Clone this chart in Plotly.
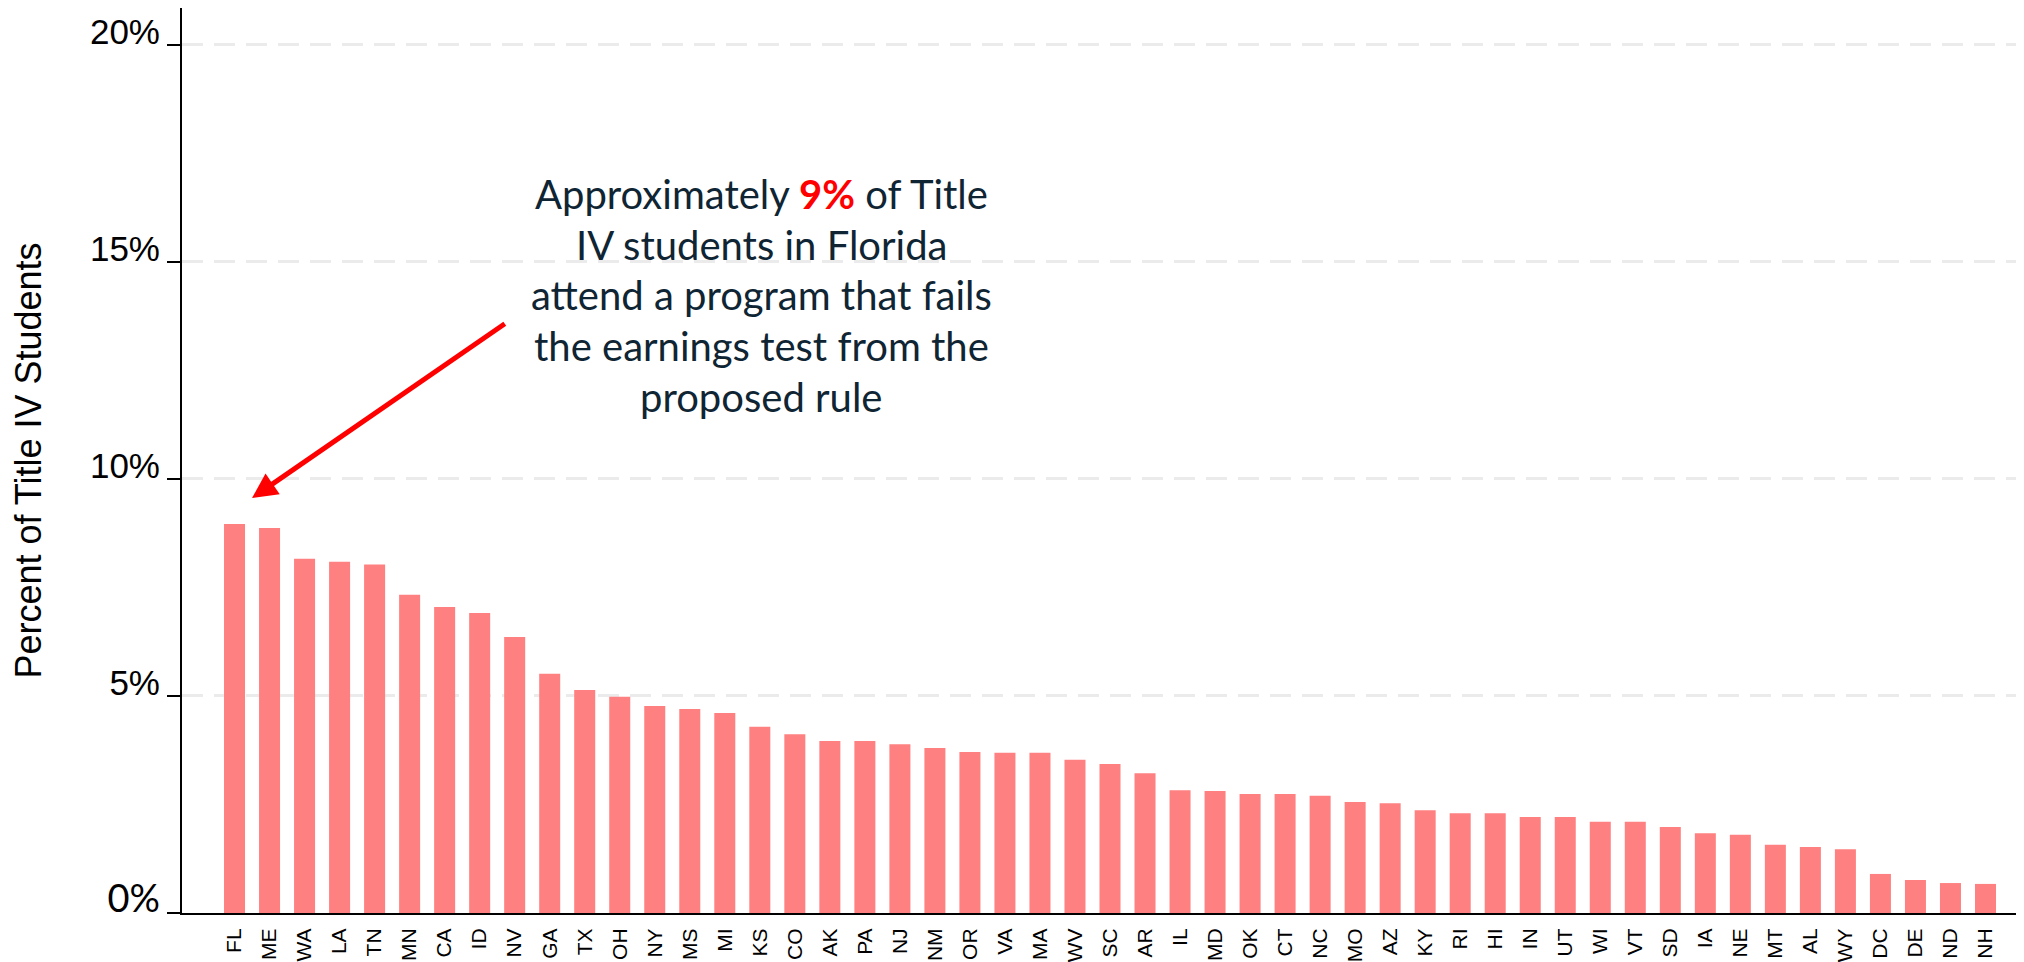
import plotly.graph_objects as go

# ============================================================
# Data
# ============================================================

states = [
    "FL", "ME", "WA", "LA", "TN", "MN", "CA", "ID", "NV", "GA",
    "TX", "OH", "NY", "MS", "MI", "KS", "CO", "AK", "PA", "NJ",
    "NM", "OR", "VA", "MA", "WV", "SC", "AR", "IL", "MD", "OK",
    "CT", "NC", "MO", "AZ", "KY", "RI", "HI", "IN", "UT", "WI",
    "VT", "SD", "IA", "NE", "MT", "AL", "WY", "DC", "DE", "ND", "NH",
]

pct_failing = [
    8.96, 8.87, 8.16, 8.09, 8.03, 7.33, 7.05, 6.91, 6.36, 5.51,
    5.14, 4.98, 4.77, 4.70, 4.61, 4.29, 4.12, 3.96, 3.96, 3.89,
    3.80, 3.71, 3.69, 3.69, 3.53, 3.43, 3.22, 2.83, 2.81, 2.74,
    2.74, 2.70, 2.56, 2.53, 2.37, 2.30, 2.30, 2.21, 2.21, 2.10,
    2.10, 1.98, 1.84, 1.80, 1.57, 1.52, 1.47, 0.90, 0.76, 0.69, 0.67,
]

y_ticks = [0, 5, 10, 15, 20]
y_tick_labels = [
    "<span style='font-family:Lato;font-size:38px'>0%</span>",
    "5%", "10%", "15%", "20%",
]

note_lines = [
    "Approximately <b><span style='color:#FF0000'>9%</span></b> of Title",
    "IV students in Florida",
    "attend a program that fails",
    "the earnings test from the",
    "proposed rule",
]


# ============================================================
# Figure
# ============================================================

fig = go.Figure()

fig.add_trace(
    go.Bar(
        x=states,
        y=pct_failing,
        marker=dict(color="#FF8080", line=dict(width=0)),
        hovertemplate="%{x}: %{y:.1f}%<extra></extra>",
    )
)

# the page body adds an 8px offset, margins are trimmed to compensate
fig.update_layout(
    width=2024,
    height=962,
    paper_bgcolor="white",
    plot_bgcolor="white",
    bargap=0.4,
    showlegend=False,
    margin=dict(l=174, r=8, t=0, b=57),
    font=dict(family="Liberation Sans, Arial, sans-serif", color="black"),
)

fig.update_xaxes(
    range=[-1.5, 51.1],
    showgrid=False,
    showline=True,
    linecolor="black",
    linewidth=2,
    ticks="",
    tickangle=-90,
    ticklabelstandoff=5,
    tickfont=dict(family="Liberation Sans, Arial, sans-serif", size=21, color="black"),
    automargin=False,
)

fig.update_yaxes(
    range=[0, 20.85],
    tickvals=y_ticks,
    ticktext=y_tick_labels,
    showgrid=True,
    gridcolor="#EBEBEB",
    gridwidth=3,
    griddash="21px,11px",
    zeroline=False,
    showline=True,
    linecolor="black",
    linewidth=2,
    ticks="outside",
    ticklen=13,
    tickwidth=2,
    tickcolor="black",
    ticklabelshift=-13,
    tickfont=dict(family="Liberation Sans, Arial, sans-serif", size=35, color="black"),
    title=dict(
        text="Percent of Title IV Students",
        font=dict(family="Liberation Sans, Arial, sans-serif", size=36, color="black"),
        standoff=38,
    ),
    automargin=False,
)

# callout text, one annotation per line to control line spacing
line_mid_px = [194, 245, 295, 346, 397]
for line, y_px in zip(note_lines, line_mid_px):
    fig.add_annotation(
        xref="paper",
        yref="paper",
        x=(761 - 182) / 1842,
        y=(913 - y_px) / 905,
        text=line,
        showarrow=False,
        xanchor="center",
        yanchor="middle",
        font=dict(family="Lato, Open Sans, sans-serif", size=40, color="#0F2533"),
    )

# red arrow pointing at Florida
fig.add_annotation(
    x=0.5,
    y=9.56,
    ax=7.76,
    ay=13.6,
    xref="x",
    yref="y",
    axref="x",
    ayref="y",
    text="",
    showarrow=True,
    arrowhead=2,
    arrowsize=1,
    arrowwidth=5,
    arrowcolor="#FF0000",
)

fig.write_html("out.html")
